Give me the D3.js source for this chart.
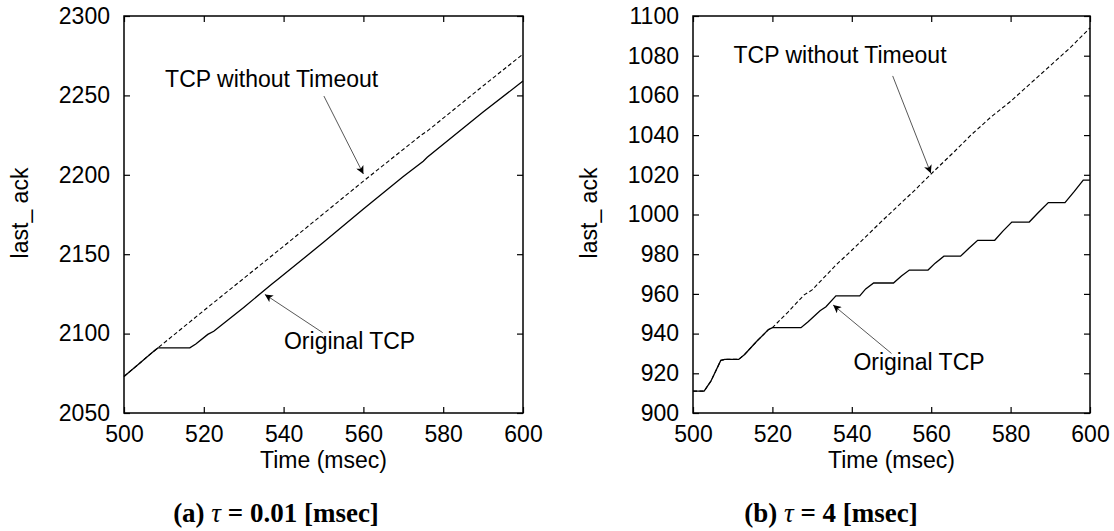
<!DOCTYPE html>
<html>
<head>
<meta charset="utf-8">
<script src="https://cdn.jsdelivr.net/npm/d3@7"></script>
<style>
  body { margin: 0; background: #fff; }
  svg { display: block; }
</style>
</head>
<body>
<svg id="chart" width="1114" height="531"></svg>
<script>
const width = 1114;
const height = 531;
const plotTop = 16;
const plotBottom = 413;

// x ticks shared by both panels (msec)
const timeTicks = [500, 520, 540, 560, 580, 600];

// panel (a): tau = 0.01 msec
const ackTicksA = [2050, 2100, 2150, 2200, 2250, 2300];
const originalA = [
    [500, 2073], [504, 2081.5], [507, 2088], [508.5, 2091], [516.5, 2091], [518, 2093.5],
    [521, 2099.5], [522.5, 2101.5], [530, 2116.5], [537, 2131], [538.5, 2134], [550, 2157.5],
    [560, 2178.5], [570, 2199], [575, 2208.5], [576, 2211], [590, 2239.5], [600, 2259]
];
const noTimeoutA = [
    [500, 2073], [504, 2081.5], [507, 2088], [508.5, 2091], [520, 2114.5], [540, 2155],
    [560, 2196], [574.5, 2225], [576, 2227.5], [590, 2256], [600, 2276]
];

// panel (b): tau = 4 msec
const ackTicksB = [900, 920, 940, 960, 980, 1000, 1020, 1040, 1060, 1080, 1100];
const originalB = [
    [500, 911], [502.8, 911], [504.5, 916], [507, 926.5], [508, 927], [511.5, 927], [513, 929.5],
    [516, 936], [519, 942], [520, 943], [527.2, 943], [529, 946], [532, 951.5], [533.5, 953.5],
    [536, 959], [542, 959], [543.5, 962.5], [545.5, 965.5], [550.5, 965.5], [552.5, 969],
    [554.5, 972], [559.2, 972], [561, 975.5], [563.2, 979], [567.4, 979], [569.5, 983],
    [571.7, 987], [576, 987], [578, 991.5], [580.3, 996.2], [584.7, 996.2], [587, 1001],
    [589.5, 1006], [593.7, 1006], [596, 1011.5], [598.3, 1017.3], [600, 1017.3]
];
const noTimeoutB = [
    [500, 911], [502.8, 911], [504.5, 916], [507, 926.5], [508, 927], [511.5, 927], [513, 929.5],
    [516, 936], [519, 942], [520, 943], [524, 951], [528, 959.5], [530, 962], [536, 974.5],
    [540, 982], [548, 997.5], [552, 1005], [556, 1012.5], [560, 1020.5], [566, 1032],
    [570, 1040], [575, 1049], [580, 1057], [585, 1066], [590, 1075], [595, 1084], [600, 1094]
];

// annotations in data units: text anchor, arrow tail, arrow tip
const labelsA = [
    { text: "TCP without Timeout", at: [510.3, 2255], from: [550.1, 2249.6], to: [560, 2200.5] },
    { text: "Original TCP", at: [540.1, 2090.3], from: [549.8, 2100.6], to: [535.3, 2124.7] }
];
const labelsB = [
    { text: "TCP without Timeout", at: [510.2, 1076.2], from: [550.3, 1069.8], to: [559.9, 1020.8] },
    { text: "Original TCP", at: [540.4, 921.7], from: [550, 930], to: [535.3, 954.4] }
];

const svg = d3.select("#chart");
svg.append("rect").attr("width", width).attr("height", height).attr("fill", "#fff");

svg.append("defs").append("marker")
    .attr("id", "head")
    .attr("markerUnits", "userSpaceOnUse")
    .attr("viewBox", "0 0 10 10")
    .attr("refX", 10).attr("refY", 5)
    .attr("markerWidth", 10).attr("markerHeight", 8)
    .attr("orient", "auto")
    .append("path")
    .attr("d", "M0,0 L10,5 L0,10 L2.5,5 Z")
    .attr("fill", "#000");

const sans = "'Liberation Sans', Arial, Helvetica, sans-serif";
const fontSize = "23px";

function drawPanel(opt) {
    const x = d3.scaleLinear().domain([500, 600]).range([opt.left, opt.right]);
    const y = d3.scaleLinear().domain(d3.extent(opt.yTicks)).range([plotBottom, plotTop]);
    const g = svg.append("g");
    const fmt = d3.format("d");

    const styleAxis = sel => {
        sel.select(".domain").remove();
        sel.selectAll(".tick line").attr("stroke", "#000").attr("stroke-width", 1.2);
        sel.selectAll(".tick text")
            .attr("fill", "#000")
            .style("font-family", sans)
            .style("font-size", fontSize);
    };

    g.append("g")
        .attr("transform", `translate(0,${plotBottom})`)
        .call(d3.axisBottom(x).tickValues(timeTicks).tickFormat(fmt).tickSizeInner(-6).tickSizeOuter(0).tickPadding(13))
        .call(styleAxis);
    g.append("g")
        .attr("transform", `translate(0,${plotTop})`)
        .call(d3.axisTop(x).tickValues(timeTicks).tickSizeInner(-6).tickSizeOuter(0).tickFormat(""))
        .call(styleAxis);
    g.append("g")
        .attr("transform", `translate(${opt.left},0)`)
        .call(d3.axisLeft(y).tickValues(opt.yTicks).tickFormat(fmt).tickSizeInner(-6).tickSizeOuter(0).tickPadding(14))
        .call(styleAxis);
    g.append("g")
        .attr("transform", `translate(${opt.right},0)`)
        .call(d3.axisRight(y).tickValues(opt.yTicks).tickSizeInner(-6).tickSizeOuter(0).tickFormat(""))
        .call(styleAxis);

    const line = d3.line().x(d => x(d[0])).y(d => y(d[1]));

    g.append("path")
        .datum(opt.noTimeout)
        .attr("d", line)
        .attr("fill", "none")
        .attr("stroke", "#000")
        .attr("stroke-width", 1.1)
        .attr("stroke-dasharray", "4,2.5");

    g.append("path")
        .datum(opt.original)
        .attr("d", line)
        .attr("fill", "none")
        .attr("stroke", "#000")
        .attr("stroke-width", 1.3);

    g.append("rect")
        .attr("x", opt.left).attr("y", plotTop)
        .attr("width", opt.right - opt.left).attr("height", plotBottom - plotTop)
        .attr("fill", "none")
        .attr("stroke", "#000")
        .attr("stroke-width", 1.5);

    opt.labels.forEach(l => {
        g.append("text")
            .attr("x", x(l.at[0])).attr("y", y(l.at[1]))
            .style("font-family", sans).style("font-size", fontSize)
            .text(l.text);
        g.append("line")
            .attr("x1", x(l.from[0])).attr("y1", y(l.from[1]))
            .attr("x2", x(l.to[0])).attr("y2", y(l.to[1]))
            .attr("stroke", "#444").attr("stroke-width", 0.9)
            .attr("marker-end", "url(#head)");
    });

    g.append("text")
        .attr("x", (opt.left + opt.right) / 2).attr("y", 468)
        .attr("text-anchor", "middle")
        .style("font-family", sans).style("font-size", fontSize)
        .text("Time (msec)");

    g.append("text")
        .attr("transform", `translate(${opt.left - 96},213) rotate(-90)`)
        .attr("text-anchor", "middle")
        .style("font-family", sans).style("font-size", fontSize)
        .style("white-space", "pre")
        .text("last_ ack");

    const cap = g.append("text")
        .attr("x", opt.captionX).attr("y", 522)
        .attr("text-anchor", "middle")
        .style("font-family", "'Liberation Serif', 'Times New Roman', serif")
        .style("font-size", "27px")
        .style("font-weight", "bold");
    cap.append("tspan").text(opt.caption[0] + " ");
    cap.append("tspan").style("font-style", "italic").style("font-weight", "normal").text("τ");
    cap.append("tspan").text(" = " + opt.caption[1] + " [msec]");
}

drawPanel({
    left: 124, right: 523, yTicks: ackTicksA,
    original: originalA, noTimeout: noTimeoutA, labels: labelsA,
    captionX: 276, caption: ["(a)", "0.01"]
});
drawPanel({
    left: 693, right: 1090, yTicks: ackTicksB,
    original: originalB, noTimeout: noTimeoutB, labels: labelsB,
    captionX: 831, caption: ["(b)", "4"]
});
</script>
</body>
</html>
